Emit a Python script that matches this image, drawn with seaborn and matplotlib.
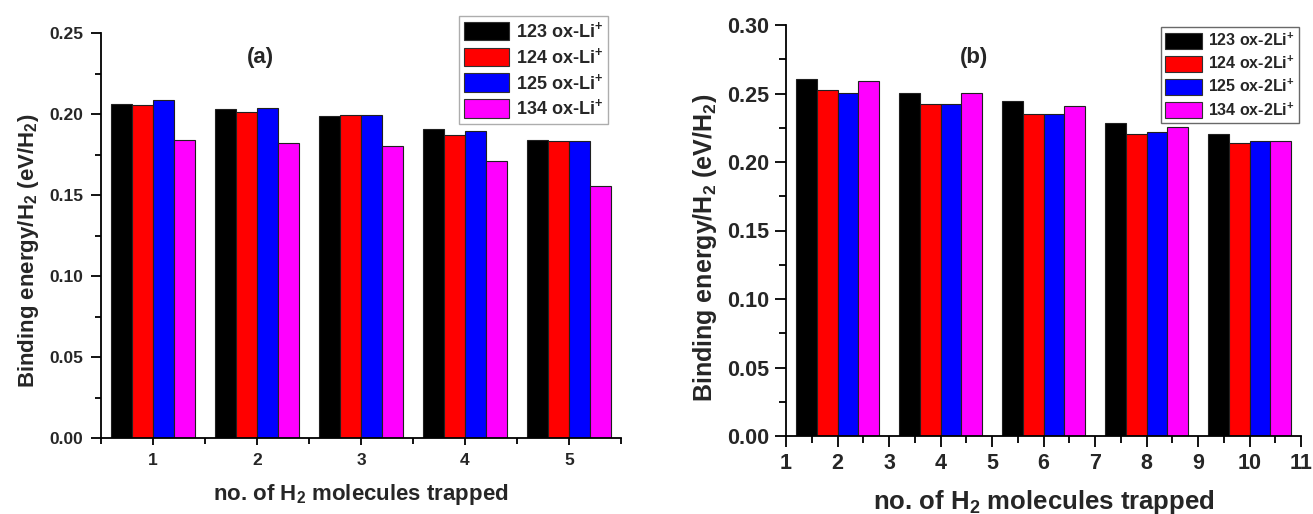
import numpy as np
import pandas as pd
import matplotlib
matplotlib.use("Agg")
import matplotlib.pyplot as plt
import seaborn as sns
from matplotlib.patches import Patch
from matplotlib.ticker import MultipleLocator

# ---------------- data ----------------
groups_a = [1, 2, 3, 4, 5]
series_a = ["123 ox-Li$^{+}$", "124 ox-Li$^{+}$", "125 ox-Li$^{+}$", "134 ox-Li$^{+}$"]
a_123 = [0.2063, 0.2034, 0.1989, 0.1906, 0.1840]
a_124 = [0.2059, 0.2016, 0.1993, 0.1871, 0.1834]
a_125 = [0.2088, 0.2038, 0.1993, 0.1894, 0.1834]
a_134 = [0.1840, 0.1824, 0.1801, 0.1713, 0.1556]

groups_b = [2, 4, 6, 8, 10]
series_b = ["123 ox-2Li$^{+}$", "124 ox-2Li$^{+}$", "125 ox-2Li$^{+}$", "134 ox-2Li$^{+}$"]
b_123 = [0.2605, 0.2507, 0.2446, 0.2285, 0.2202]
b_124 = [0.2524, 0.2422, 0.2349, 0.2205, 0.2139]
b_125 = [0.2507, 0.2422, 0.2354, 0.2217, 0.2156]
b_134 = [0.2590, 0.2502, 0.2410, 0.2259, 0.2156]

colors = ["#000000", "#FF0000", "#0000FF", "#FF00FF"]

def long_df(groups, names, cols):
    rows = []
    for name, vals in zip(names, cols):
        for g, v in zip(groups, vals):
            rows.append({"n": g, "series": name, "E": v})
    return pd.DataFrame(rows)

df_a = long_df(groups_a, series_a, [a_123, a_124, a_125, a_134])
df_b = long_df(groups_b, series_b, [b_123, b_124, b_125, b_134])

# ---------------- style ----------------
sns.set_theme(style="ticks")
plt.rcParams["font.family"] = ["Liberation Sans", "DejaVu Sans"]
plt.rcParams["font.weight"] = "bold"
plt.rcParams["mathtext.fontset"] = "custom"
plt.rcParams["mathtext.rm"] = "Liberation Sans:bold"
plt.rcParams["mathtext.it"] = "Liberation Sans:bold"
plt.rcParams["mathtext.bf"] = "Liberation Sans:bold"
plt.rcParams["mathtext.default"] = "rm"

W, H = 1313, 514
fig = plt.figure(figsize=(W / 100, H / 100), dpi=100)
fig.patch.set_facecolor("white")

def fx(px):
    return px / W

def fy(py):
    return 1 - py / H

ax_a = fig.add_axes([fx(101), fy(438), fx(621) - fx(101), fy(33.3) - fy(438)])
ax_b = fig.add_axes([fx(786), fy(436), fx(1301) - fx(786), fy(25) - fy(436)])

# ---------------- panel (a) ----------------
sns.barplot(data=df_a, x="n", y="E", hue="series", hue_order=series_a,
            palette=colors, width=0.8, edgecolor="#202020", linewidth=0.8,
            saturation=1, ax=ax_a, legend=False)
ax_a.set_xlim(-0.5, 4.5)
ax_a.set_ylim(0, 0.25)
ax_a.yaxis.set_major_locator(MultipleLocator(0.05))
ax_a.yaxis.set_minor_locator(MultipleLocator(0.025))
ax_a.xaxis.set_minor_locator(MultipleLocator(1.0, offset=0.5))
ax_a.set_yticks(np.arange(0, 0.2501, 0.05))
ax_a.set_yticklabels([f"{v:.2f}" for v in np.arange(0, 0.2501, 0.05)])
ax_a.tick_params(axis="both", which="major", direction="out", length=7, width=1.3,
                 labelsize=12.5, pad=6, color="black")
ax_a.tick_params(axis="both", which="minor", direction="out", length=4, width=1.3, color="black")
ax_a.tick_params(axis="x", which="major", length=5, pad=6)
for lab in ax_a.get_xticklabels() + ax_a.get_yticklabels():
    lab.set_fontweight("bold")
ax_a.set_xlabel("no. of H$_{2}$ molecules trapped", fontsize=16, fontweight="bold", labelpad=10)
ax_a.set_ylabel("Binding energy/H$_{2}$ (eV/H$_{2}$)", fontsize=16, fontweight="bold", labelpad=6)
ax_a.yaxis.label.set_y(0.462)
sns.despine(ax=ax_a)
for s in ["left", "bottom"]:
    ax_a.spines[s].set_linewidth(1.3)
    ax_a.spines[s].set_color("black")
ax_a.text(0.306, 0.941, "(a)", transform=ax_a.transAxes, fontsize=16,
          fontweight="bold", ha="center", va="center")

handles_a = [Patch(facecolor=c, edgecolor="#303030", linewidth=0.8) for c in colors]
leg_a = ax_a.legend(handles_a, series_a, loc="upper right",
                    bbox_to_anchor=(fx(608), fy(15.7)), bbox_transform=fig.transFigure,
                    borderaxespad=0, fontsize=13, handlelength=2.5, handleheight=1.2,
                    labelspacing=0.32, borderpad=0.3, handletextpad=0.35,
                    fancybox=False, frameon=True, edgecolor="#999999")
leg_a.get_frame().set_linewidth(1.0)

# ---------------- panel (b) ----------------
sns.barplot(data=df_b, x="n", y="E", hue="series", hue_order=series_b,
            palette=colors, width=0.8, edgecolor="#202020", linewidth=0.8,
            saturation=1, native_scale=True, ax=ax_b, legend=False)
ax_b.set_xlim(1, 11)
ax_b.set_ylim(0, 0.30)
ax_b.set_xticks(np.arange(1, 12, 1))
ax_b.set_xticklabels([str(i) for i in range(1, 12)])
ax_b.xaxis.set_minor_locator(MultipleLocator(1.0, offset=0.5))
ax_b.set_yticks(np.arange(0, 0.3001, 0.05))
ax_b.set_yticklabels([f"{v:.2f}" for v in np.arange(0, 0.3001, 0.05)])
ax_b.yaxis.set_minor_locator(MultipleLocator(0.025))
ax_b.tick_params(axis="both", which="major", direction="out", length=8, width=1.3,
                 labelsize=15.5, pad=4, color="black")
ax_b.tick_params(axis="both", which="minor", direction="out", length=5, width=1.3, color="black")
for lab in ax_b.get_xticklabels() + ax_b.get_yticklabels():
    lab.set_fontweight("bold")
ax_b.set_xlabel("no. of H$_{2}$ molecules trapped", fontsize=18.5, fontweight="bold", labelpad=10)
ax_b.set_ylabel("Binding energy/H$_{2}$ (eV/H$_{2}$)", fontsize=18, fontweight="bold", labelpad=6)
ax_b.yaxis.label.set_y(0.457)
sns.despine(ax=ax_b)
for s in ["left", "bottom"]:
    ax_b.spines[s].set_linewidth(1.3)
    ax_b.spines[s].set_color("black")
ax_b.text(0.365, 0.92, "(b)", transform=ax_b.transAxes, fontsize=16,
          fontweight="bold", ha="center", va="center")

handles_b = [Patch(facecolor=c, edgecolor="#303030", linewidth=0.8) for c in colors]
leg_b = ax_b.legend(handles_b, series_b, loc="upper right",
                    bbox_to_anchor=(fx(1299), fy(27.3)), bbox_transform=fig.transFigure,
                    borderaxespad=0, fontsize=11.5, handlelength=2.3, handleheight=1.2,
                    labelspacing=0.36, borderpad=0.3, handletextpad=0.35,
                    fancybox=False, frameon=True, edgecolor="#444444")
leg_b.get_frame().set_linewidth(1.0)

fig.savefig("out.png", dpi=100, facecolor="white")
